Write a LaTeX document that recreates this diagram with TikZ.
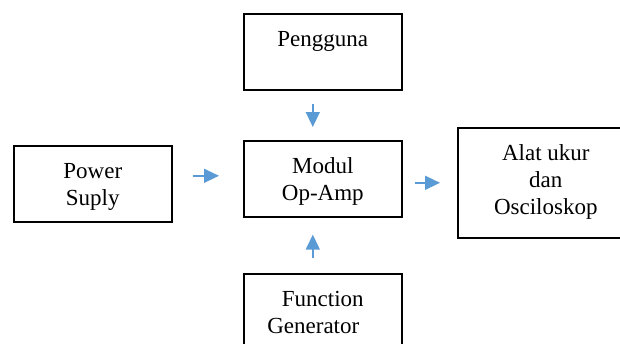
\documentclass[tikz,border=0pt]{standalone}
\usepackage{fontspec}
\setmainfont{Liberation Serif}
\usetikzlibrary{arrows.meta}
\definecolor{arrblue}{HTML}{5B9BD5}
\begin{document}
\begin{tikzpicture}[x=1pt,y=-1pt,
  box/.style={draw=black,line width=1.6pt,inner sep=0pt,align=center,
    font=\fontsize{23}{27}\selectfont,text height=33pt,text depth=43pt,
    minimum width=158pt,anchor=north west},
  twoline/.style={text height=60pt,text depth=16pt},
  arr/.style={draw=arrblue,line width=1.5pt,-{Triangle[length=15pt,width=14pt]}}]
\useasboundingbox (0,0) rectangle (620,343);
\clip (0,0) rectangle (620,343);
\node[box] (peng) at (243,13) {Pengguna};
\node[box,twoline] (ps) at (13,145) {Power\\Suply};
\node[box,twoline] (mod) at (243,140) {Modul\\Op-Amp};
\node[box,minimum width=176pt,text height=87pt,text depth=23pt] (alat) at (457,127) {Alat ukur\\dan\\Osciloskop};
\node[box,twoline] (fg) at (243,273) {Function\\Generator\hspace*{19pt}};
\path ([yshift=8pt]ps.east) coordinate (psA);
\draw[arr,shorten <=20pt,shorten >=24pt] (psA) -- (psA -| mod.west);
\draw[arr,shorten <=12pt,shorten >=17pt] (mod.east |- alat.west) -- (alat.west);
\draw[arr,shorten <=13pt,shorten >=13pt] ([xshift=-10pt]peng.south) -- ([xshift=-10pt]mod.north);
\draw[arr,shorten <=15pt,shorten >=17pt] ([xshift=-10pt]fg.north) -- ([xshift=-10pt]mod.south);
\end{tikzpicture}
\end{document}
